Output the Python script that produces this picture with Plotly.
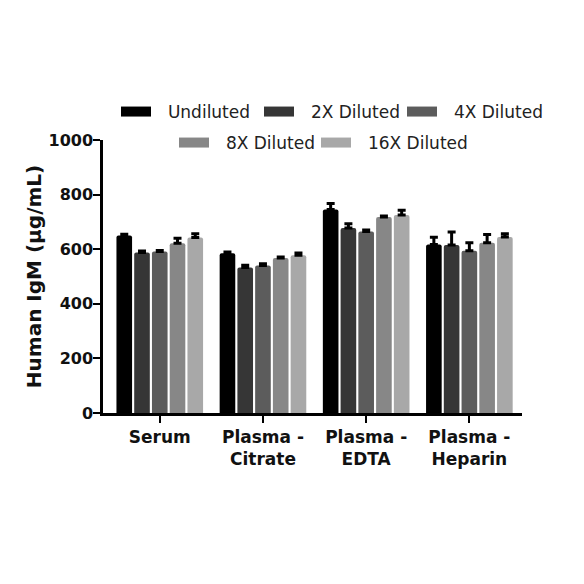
import plotly.graph_objects as go

categories = ["Serum", "Plasma -<br>Citrate", "Plasma -<br>EDTA", "Plasma -<br>Heparin"]
series_names = ["Undiluted", "2X Diluted", "4X Diluted", "8X Diluted", "16X Diluted"]
undiluted = [650, 585, 745, 617]
diluted_2x = [588, 533, 678, 615]
diluted_4x = [592, 540, 665, 594]
diluted_8x = [622, 568, 718, 624]
diluted_16x = [643, 578, 725, 645]
err_undiluted = [5, 5, 22, 27]
err_2x = [5, 8, 15, 48]
err_4x = [3, 7, 5, 30]
err_8x = [18, 3, 4, 30]
err_16x = [14, 8, 18, 12]
y_ticks = [0, 200, 400, 600, 800, 1000]

values = [undiluted, diluted_2x, diluted_4x, diluted_8x, diluted_16x]
errors = [err_undiluted, err_2x, err_4x, err_8x, err_16x]
colors = ["#000000", "#363636", "#5c5c5c", "#878787", "#a8a8a8"]

# legend key placement (pixel position of each key's swatch, two rows)
legend_ids = ["legend", "legend2", "legend3", "legend4", "legend5"]
legend_px = [(122, 112), (265, 112), (408, 112), (180, 143), (322, 143)]

FONT = "DejaVu Sans, sans-serif"
TXT = "#111111"
W = H = 584

fig = go.Figure()
for name, vals, errs, col, lg in zip(series_names, values, errors, colors, legend_ids):
    fig.add_trace(go.Bar(
        x=categories, y=vals, name=name, legendgroup=name, showlegend=False,
        marker=dict(color=col, line=dict(width=0), cornerradius=2),
        error_y=dict(type="data", array=errs, arrayminus=[0] * len(errs),
                     symmetric=False, color="#000000", thickness=3, width=4),
    ))
    # legend key (wide swatch like the original)
    fig.add_trace(go.Scatter(
        x=[None], y=[None], mode="lines", name="\u2002\u2009" + name, legendgroup=name,
        line=dict(color=col, width=10), legend=lg, hoverinfo="skip",
    ))

legend_common = dict(orientation="h", xanchor="left", yanchor="middle",
                     font=dict(family=FONT, size=17, color="#222222"),
                     itemwidth=30, bgcolor="rgba(0,0,0,0)",
                     xref="container", yref="container", borderwidth=0)
legends = {}
for lg, (px, py) in zip(legend_ids, legend_px):
    legends[lg] = dict(legend_common, x=(px - 6) / W, y=1 - py / H)

fig.update_layout(
    width=W, height=H,
    paper_bgcolor="white", plot_bgcolor="white",
    margin=dict(l=103, r=62, t=140, b=171, pad=0, autoexpand=False),
    barmode="group", bargap=0.14, bargroupgap=0.12,
    font=dict(family=FONT, color=TXT),
    showlegend=True,
    **legends,
)
fig.update_xaxes(
    showline=True, linecolor="#000000", linewidth=2.5,
    ticks="outside", ticklen=7, tickwidth=2, tickcolor="#000000",
    tickfont=dict(family=FONT, size=17, color=TXT, weight="bold"),
    range=[-0.55, 3.51], showgrid=False, zeroline=False,
)
fig.update_yaxes(
    showline=True, linecolor="#000000", linewidth=2.5,
    ticks="outside", ticklen=7, tickwidth=2, tickcolor="#000000",
    tickvals=y_ticks, range=[0, 1000], ticklabelstandoff=-3,
    tickfont=dict(family=FONT, size=16, color=TXT, weight="bold"),
    title=dict(text="Human IgM (µg/mL)", font=dict(family=FONT, size=20, color=TXT, weight="bold"), standoff=2),
    showgrid=False, zeroline=False,
)

fig.write_html("out.html", config={"displayModeBar": False},
               post_script="document.body.style.margin='0px';")
